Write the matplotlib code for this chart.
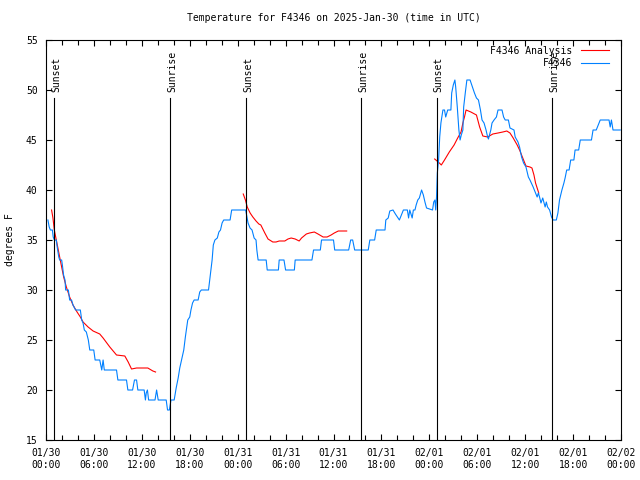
import numpy as np
import matplotlib
matplotlib.use('Agg')
import matplotlib.pyplot as plt
import matplotlib.dates as mdates
from datetime import datetime, timedelta

# 观测数据 (小时, 自 2025-01-30 00:00 UTC 起)
obs_hours = [0.24, 0.4, 0.55, 0.8, 0.9, 1.05, 1.29, 1.4, 1.6, 1.71, 1.96, 2.05, 2.2, 2.38, 2.46, 2.8,
             2.96, 3.2, 3.38, 3.7, 4.3, 4.47, 4.64, 4.8, 5.05, 5.3, 5.48, 5.98, 6.15, 6.73, 6.98, 7.15,
             7.3, 8.83, 9.0, 10.08, 10.25, 10.84, 11.08, 11.34, 11.5, 12.29, 12.45, 12.55, 12.7, 12.85,
             13.65, 13.85, 14.05, 15.05, 15.22, 15.45, 15.65, 16.05, 16.3, 16.55, 16.75, 17.05, 17.25,
             17.45, 17.75, 18.0, 18.15, 18.35, 18.55, 19.05, 19.25, 19.45, 20.35, 20.5, 20.65, 20.8,
             20.95, 21.15, 21.45, 21.65, 21.85, 22.05, 22.25, 23.05, 23.25, 24.6, 25.0, 25.3, 25.55,
             25.8, 26.06, 26.3, 26.4, 26.56, 27.57, 27.7, 29.1, 29.2, 29.8, 30.0, 31.1, 31.2, 33.3,
             33.5, 34.35, 34.5, 36.0, 36.15, 37.9, 38.15, 38.4, 38.65, 40.35, 40.55, 41.15, 41.35,
             42.45, 42.55, 42.85, 43.05, 43.45, 43.75, 44.0, 44.25, 44.5, 44.75, 45.25, 45.4, 45.55,
             45.85, 46.0, 46.2, 46.35, 46.55, 46.75, 47.03, 47.25, 47.45, 47.65, 48.4, 48.55, 48.7,
             48.8, 48.9, 49.0, 49.16, 49.3, 49.45, 49.7, 49.9, 50.05, 50.3, 50.7, 50.8, 51.0, 51.2,
             51.3, 51.5, 51.7, 51.85, 52.0, 52.2, 52.3, 52.5, 52.7, 53.1, 53.4, 53.65, 53.9, 54.15,
             54.4, 54.6, 54.85, 55.1, 55.3, 55.4, 55.7, 55.85, 56.1, 56.4, 56.6, 57.1, 57.3, 57.5,
             57.9, 58.1, 58.6, 58.75, 59.1, 59.3, 59.55, 59.8, 60.1, 60.4, 60.6, 61.0, 61.25, 61.5,
             61.65, 61.8, 61.98, 62.2, 62.5, 62.65, 62.8, 63.06, 63.3, 63.5, 63.9, 64.1, 64.3, 64.6,
             64.85, 65.0, 65.2, 65.5, 65.7, 66.1, 66.25, 66.7, 66.9, 68.3, 68.5, 68.9, 69.4, 70.5,
             70.65, 70.8, 71.0, 71.9]
obs_temps = [37, 36.3, 36, 36, 35.3, 35, 35, 34.3, 33.3, 33, 33, 32.5, 31.5, 31, 30, 30,
             29, 29, 28.5, 28, 28, 27, 26.7, 26, 25.8, 25, 24, 24, 23, 23, 22, 23,
             22, 22, 21, 21, 20, 20, 21, 21, 20, 20, 19, 19.7, 20, 19,
             19, 20, 19, 19, 18, 18, 19, 19, 20.2, 21.2, 22.2, 23.3, 24,
             25.3, 27, 27.3, 28, 28.7, 29, 29, 29.8, 30, 30, 31, 32, 33,
             34.5, 35, 35.2, 35.8, 36, 36.7, 37, 37, 38, 38, 38, 36.7, 36.2,
             36, 35.2, 35, 34, 33, 33, 32, 32, 33, 33, 32, 32, 33, 33,
             34, 34, 35, 35, 34, 34, 35, 35, 34, 34, 35, 35, 36,
             36, 37, 37.2, 37.9, 38, 37.6, 37.3, 37, 37.5, 38, 38, 37.2, 38,
             37.2, 38, 38, 38.5, 39, 39.2, 40, 39.5, 38.8, 38.2, 38, 38.8, 39,
             38, 39.3, 41.7, 43, 45.3, 46.7, 48, 48, 47.3, 48, 48, 49.7, 50.5, 51,
             50.3, 48.3, 46, 45, 45.5, 46, 48.3, 49.7, 51, 51, 50.3, 49.7, 49.2, 49,
             48, 47, 46.7, 46, 45.3, 45.1, 46, 46.7, 47, 47.3, 48, 48, 47.3, 47,
             47, 46.2, 46, 45.3, 44.8, 44.3, 43.3, 42.7, 42.3, 41.3, 41, 40.3, 39.8, 39.3,
             39.7, 39.3, 38.7, 39.2, 38.3, 38.8, 38.3, 38, 37.3, 37, 37, 37.7, 39, 40,
             40.7, 41.2, 42, 42, 43, 43, 44, 44, 45, 45, 46, 46, 47, 47,
             46.3, 47, 46, 46]

# 分析数据 (nan 表示断开)
ana_hours = [0.7, 0.87, 1.04, 1.29, 1.54, 1.71, 1.96, 2.21, 2.55, 2.96, 3.38, 3.89, 4.3, 4.64,
             5.27, 5.9, 6.73, 7.15, 7.99, 8.83, 9.87, 10.29, 10.71, 11.34, 12.75, 13.38, 13.72,
             np.nan,
             24.7, 24.97, 25.2, 25.56, 25.9, 26.3, 26.65, 26.9, 27.4, 27.8, 28.4, 28.8, 29.2, 29.9,
             30.3, 30.7, 31.2, 31.7, 32.0, 32.6, 33.0, 33.6, 34.06, 34.7, 35.2, 35.7, 36.1, 36.6,
             37.65,
             np.nan,
             48.67, 49.25, 49.5, 49.9, 50.5, 51.1, 51.55, 51.97, 52.2, 52.4, 52.6, 53.2, 53.9, 54.3,
             54.7, 55.3, 55.95, 56.6, 57.2, 57.7, 58.1, 58.5, 59.0, 59.3, 59.7, 60.1, 60.6, 60.85,
             61.1, 61.3, 61.5, 61.7]
ana_temps = [38, 37.2, 36, 35, 34, 33.3, 32.3, 31.3, 30.3, 29.3, 28.5, 27.8, 27.3, 26.8,
             26.3, 25.9, 25.6, 25.2, 24.3, 23.5, 23.4, 22.8, 22.1, 22.2, 22.2, 21.9, 21.8,
             np.nan,
             39.6, 39, 38.3, 37.7, 37.3, 36.9, 36.6, 36.5, 35.7, 35.1, 34.8, 34.8, 34.9, 34.9,
             35.1, 35.2, 35.1, 34.9, 35.2, 35.6, 35.7, 35.8, 35.6, 35.3, 35.3, 35.5, 35.7, 35.9,
             35.9,
             np.nan,
             43.1, 42.7, 42.5, 43, 43.8, 44.5, 45.2, 45.8, 46.7, 47.3, 48, 47.8, 47.5, 46.3,
             45.4, 45.3, 45.6, 45.7, 45.8, 45.9, 45.7, 45.2, 44.5, 44, 43.2, 42.4, 42.3, 42.2,
             41.5, 40.7, 40.2, 39.7]

# 日出日落
event_hours = [1.0, 15.5, 25.0, 39.4, 48.9, 63.4]
event_labels = ['Sunset', 'Sunrise', 'Sunset', 'Sunrise', 'Sunset', 'Sunrise']

start = datetime(2025, 1, 30)

def to_num(h):
    if np.isnan(h):
        return np.nan
    return mdates.date2num(start + timedelta(hours=float(h)))

plt.rcParams['font.family'] = ['DejaVu Sans Mono']
plt.rcParams['font.size'] = 7

fig = plt.figure(figsize=(6.4, 4.8), dpi=100)
ax = fig.add_axes([46 / 640, 40 / 480, 575 / 640, 400 / 480])

ax.plot([to_num(h) for h in ana_hours], ana_temps, color='#ff0000', linewidth=0.8,
        label='F4346 Analysis')
ax.plot([to_num(h) for h in obs_hours], obs_temps, color='#0080ff', linewidth=0.8,
        label='F4346')

# 日出日落竖线
for h, lab in zip(event_hours, event_labels):
    xv = to_num(h)
    ax.plot([xv, xv], [15, 49.2], color='black', linewidth=0.8)
    ax.text(xv + 0.012, 49.75, lab, rotation=90, ha='center', va='bottom', fontsize=7)

ax.set_xlim(to_num(0), to_num(72))
ax.set_ylim(15, 55)
ax.set_yticks(range(15, 56, 5))
ax.xaxis.set_major_locator(mdates.HourLocator(byhour=range(0, 24, 6)))
ax.xaxis.set_minor_locator(mdates.HourLocator(byhour=range(0, 24, 2)))
ax.xaxis.set_major_formatter(mdates.DateFormatter('%m/%d\n%H:%M'))
ax.tick_params(which='both', direction='in', top=True, right=True, width=0.8)
ax.tick_params(which='major', length=4, pad=6)
ax.tick_params(which='minor', length=3.5)
for s in ax.spines.values():
    s.set_linewidth(0.8)

ax.set_title('Temperature for F4346 on 2025-Jan-30 (time in UTC)', fontsize=7, pad=14)
ax.set_ylabel('degrees F', fontsize=7, labelpad=8)

ax.legend(loc='upper right', bbox_to_anchor=(1 - 5 / 575, 1.0025), frameon=False,
          markerfirst=False, handlelength=2.9, fontsize=7, borderaxespad=0.3,
          labelspacing=0.25, handletextpad=0.9)

plt.savefig('out.png', dpi=100)
